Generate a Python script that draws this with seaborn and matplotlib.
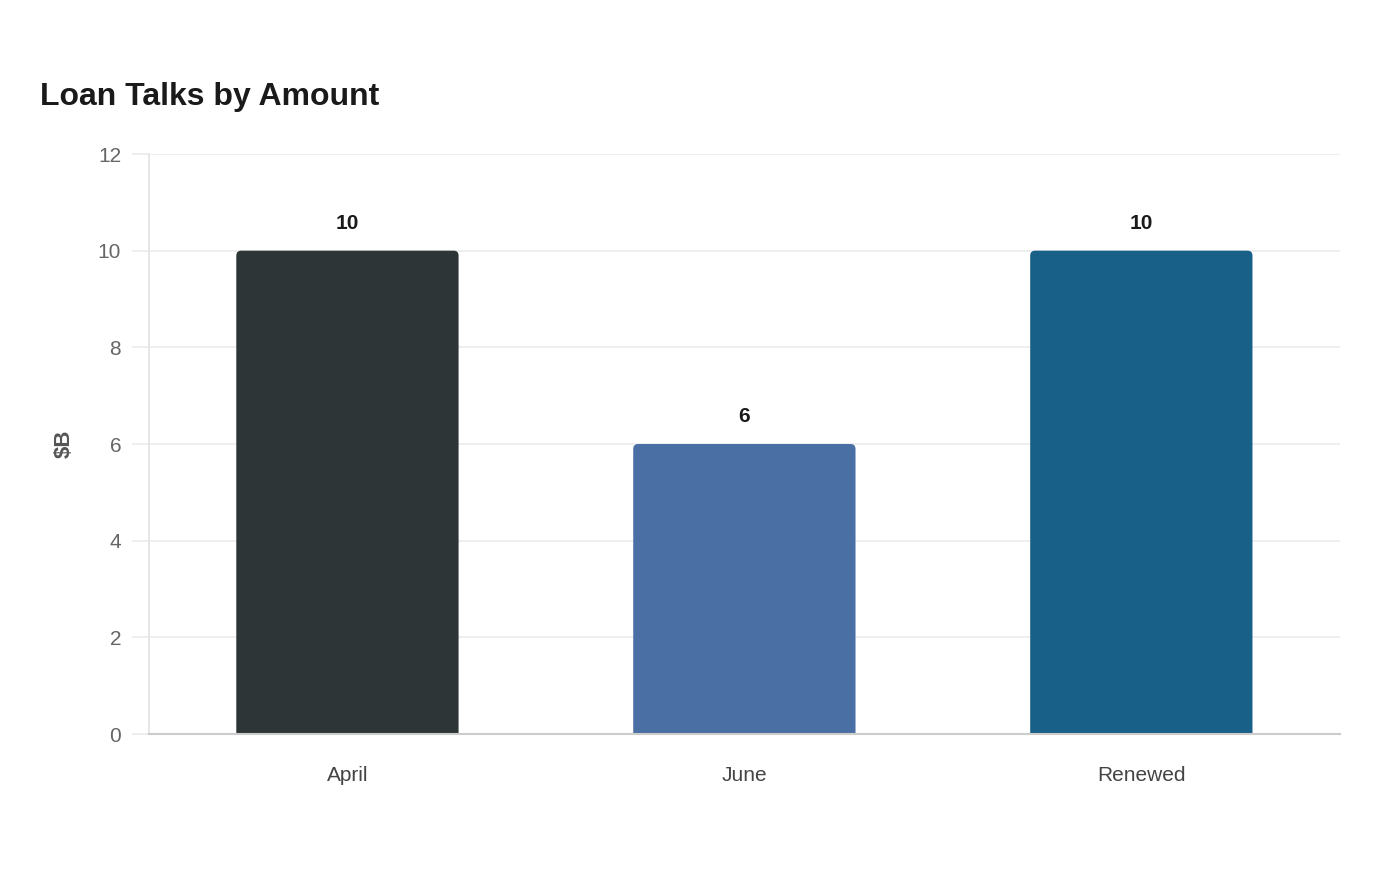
import matplotlib
matplotlib.use("Agg")
import matplotlib.pyplot as plt
import seaborn as sns
import pandas as pd
from matplotlib.patches import FancyBboxPatch

# data
categories = ["April", "June", "Renewed"]
amounts = [10, 6, 10]
bar_colors = ["#2e3537", "#4a6fa4", "#196088"]

df = pd.DataFrame({"Period": categories, "Amount": amounts})

sns.set_theme(style="white")
plt.rcParams["font.family"] = ["Liberation Sans", "DejaVu Sans"]

fig = plt.figure(figsize=(14, 8.8), dpi=100)
ax = fig.add_axes([0.1064, 0.1659, 0.957 - 0.1064, 0.825 - 0.1659])

sns.barplot(data=df, x="Period", y="Amount", hue="Period", palette=bar_colors,
            width=0.56, legend=False, ax=ax, saturation=1)

# swap bars for ones with rounded tops (bottom corners fall below ylim and get clipped)
for patch in list(ax.patches):
    x, y = patch.get_x(), patch.get_y()
    w, h = patch.get_width(), patch.get_height()
    fc = patch.get_facecolor()
    patch.set_visible(False)
    rp = FancyBboxPatch((x, y - 0.5), w, h + 0.5,
                        boxstyle="round,pad=0,rounding_size=0.0126",
                        mutation_aspect=8.2, facecolor=fc, edgecolor="none", zorder=3)
    ax.add_patch(rp)

for i, v in enumerate(amounts):
    ax.text(i, v + 0.57, f"{v}", ha="center", va="center", fontsize=15,
            fontweight="bold", color="#1a1a1a")

ax.set_xlim(-0.5, 2.5)
ax.set_ylim(0, 12)
ax.set_yticks(range(0, 13, 2))
ax.yaxis.grid(True, color="#ebebeb", linewidth=1.2, zorder=0)
ax.set_axisbelow(True)

for s in ["top", "right"]:
    ax.spines[s].set_visible(False)
ax.spines["left"].set_color("#e3e3e3")
ax.spines["left"].set_linewidth(1.2)
ax.spines["bottom"].set_color("#cccccc")
ax.spines["bottom"].set_linewidth(1.5)
ax.spines["bottom"].set_zorder(4)

ax.tick_params(axis="y", length=12, width=1.2, color="#ebebeb", pad=8,
               labelsize=15, labelcolor="#666666", left=True)
ax.tick_params(axis="x", length=0, pad=23, labelsize=15, labelcolor="#444444")

ax.set_xlabel("")
ax.set_ylabel("$B", fontsize=16, fontweight="bold", color="#555555")
ax.yaxis.set_label_coords(-0.062, 0.5)

fig.text(40 / 1400, 1 - 97 / 880, "Loan Talks by Amount", fontsize=23,
         fontweight="bold", color="#1a1a1a", ha="left", va="center")

fig.savefig("out.png", dpi=100, facecolor="white")
